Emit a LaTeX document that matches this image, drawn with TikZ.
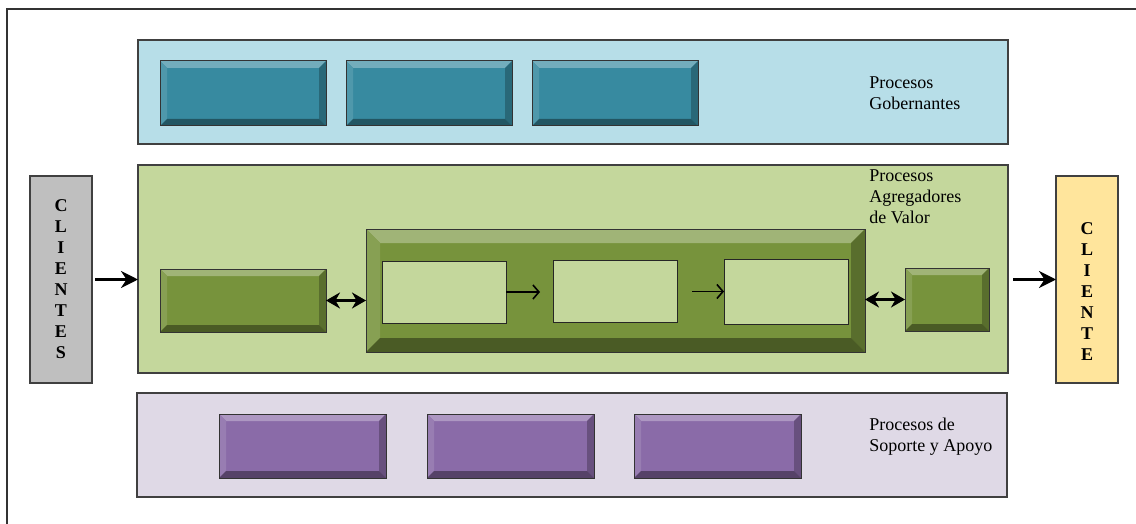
\documentclass[tikz,border=0pt]{standalone}
\usepackage{fontspec}
\setmainfont{Liberation Serif}
\usetikzlibrary{arrows.meta}

\definecolor{govband}{HTML}{B7DEE8}
\definecolor{govface}{HTML}{378AA0}
\definecolor{valband}{HTML}{C4D79C}
\definecolor{valface}{HTML}{77933C}
\definecolor{supband}{HTML}{DFD9E6}
\definecolor{supface}{HTML}{8A6BA8}
\definecolor{clientgray}{HTML}{BFBFBF}
\definecolor{clientyellow}{HTML}{FFE59C}
\definecolor{edge}{HTML}{404040}

\begin{document}
\begin{tikzpicture}[x=0.5pt,y=-0.5pt,
  band/.style={draw=edge, line width=0.6pt, inner sep=0pt, outer sep=0pt,
    minimum width=435pt, minimum height=52pt},
  % raised button: flat face plus four shaded facets of width #2
  bevel/.style 2 args={draw=black!80, line width=0.5pt, fill=#1, inner sep=0pt, outer sep=0pt,
    path picture={
      \fill[#1!70!white] (path picture bounding box.north west) -- (path picture bounding box.north east)
        -- ([shift={(-#2,-#2)}]path picture bounding box.north east)
        -- ([shift={(#2,-#2)}]path picture bounding box.north west) -- cycle;
      \fill[#1!88!white] (path picture bounding box.north west) -- ([shift={(#2,-#2)}]path picture bounding box.north west)
        -- ([shift={(#2,#2)}]path picture bounding box.south west)
        -- (path picture bounding box.south west) -- cycle;
      \fill[#1!75!black] (path picture bounding box.north east) -- (path picture bounding box.south east)
        -- ([shift={(-#2,#2)}]path picture bounding box.south east)
        -- ([shift={(-#2,-#2)}]path picture bounding box.north east) -- cycle;
      \fill[#1!62!black] (path picture bounding box.south west) -- (path picture bounding box.south east)
        -- ([shift={(-#2,#2)}]path picture bounding box.south east)
        -- ([shift={(#2,#2)}]path picture bounding box.south west) -- cycle;
    }},
  btn/.style={bevel={#1}{3.5pt}, minimum width=83pt, minimum height=32.5pt},
  panel/.style={draw=black!85, line width=0.5pt, fill=valband, inner sep=0pt, outer sep=0pt,
    minimum width=62pt, minimum height=31pt},
  clientbox/.style={draw=edge, line width=0.6pt, inner sep=0pt, outer sep=0pt,
    minimum width=31pt, minimum height=103.5pt},
  caption/.style={font=\fontsize{9}{10.5}\selectfont, align=left, anchor=north west, inner sep=0pt},
  letters/.style={font=\fontsize{9}{10.5}\selectfont\bfseries, align=center, inner sep=0pt},
  flow/.style={-{Stealth[length=8.5pt,width=8.5pt]}, line width=1.7pt},
  link/.style={{Stealth[length=7pt,width=8pt]}-{Stealth[length=7pt,width=8pt]}, line width=1.7pt},
  thinarrow/.style={-{Straight Barb[length=3pt,width=7pt]}, line width=0.8pt}
]
\useasboundingbox (0,0) rectangle (1136,524);

% outer frame (top and left rules only)
\coordinate (frameBL) at (7,524);
\coordinate (frameTL) at (7,9);
\coordinate (frameTR) at (1136,9);
\draw[line width=1pt, black!80] (frameBL) -- (frameTL) -- (frameTR);

% governing processes
\node[band, fill=govband] (gov) at (573,92) {};
\node[btn=govface] (g1) at (243,93.5) {};
\node[btn=govface] (g2) at (429,93.5) {};
\node[btn=govface] (g3) at (615,93.5) {};
\node[caption] (govtxt) at (869,76) {Procesos\\Gobernantes};

% value-adding processes
\node[band, fill=valband, minimum height=104pt] (val) at (573,269) {};
\node[caption] (valtxt) at (869,169) {Procesos\\Agregadores\\de Valor};
\node[btn=valface, minimum height=31.5pt] (gL) at (243,300.5) {};
\node[bevel={valface}{7pt}, minimum width=249.5pt, minimum height=61.5pt] (big) at (615.5,290.5) {};
\node[panel] (in1) at (444,292) {};
\node[panel] (in2) at (615,291.5) {};
\node[panel, minimum height=32.5pt] (in3) at (786,291.5) {};
\node[btn=valface, minimum width=42pt, minimum height=31.5pt] (gR) at (947,299.5) {};

% support processes
\node[band, fill=supband] (sup) at (572,445) {};
\node[btn=supface, minimum width=83.5pt, minimum height=32pt] (s1) at (302.5,446) {};
\node[btn=supface, minimum width=83.5pt, minimum height=32pt] (s2) at (510.5,446) {};
\node[btn=supface, minimum width=83.5pt, minimum height=32pt] (s3) at (717.5,446) {};
\node[caption] (suptxt) at (869,418) {Procesos de\\Soporte y Apoyo};

% clients
\node[clientbox, fill=clientgray] (clientes) at (61,279.5) {};
\node[letters] (clientestxt) at (clientes.center) {C\\L\\I\\E\\N\\T\\E\\S};
\node[clientbox, fill=clientyellow] (cliente) at (1087,279.5) {};
\node[letters] (clientetxt) at ([yshift=-6.25pt]cliente.center) {C\\L\\I\\E\\N\\T\\E};

% connectors
\draw[flow, shorten <=1.5pt] (clientes.east) -- (clientes.east -| val.west);
\draw[flow, shorten <=2.5pt] (val.east |- cliente.west) -- (cliente.west);
\draw[link] (gL.east) -- (gL.east -| big.west);
\draw[link] (big.east |- gR.west) -- (gR.west);
\draw[thinarrow, shorten >=6.5pt] (in1.east) -- (in1.east -| in2.west);
\draw[thinarrow, shorten <=7.5pt] (in2.east) -- (in2.east -| in3.west);
\end{tikzpicture}
\end{document}
